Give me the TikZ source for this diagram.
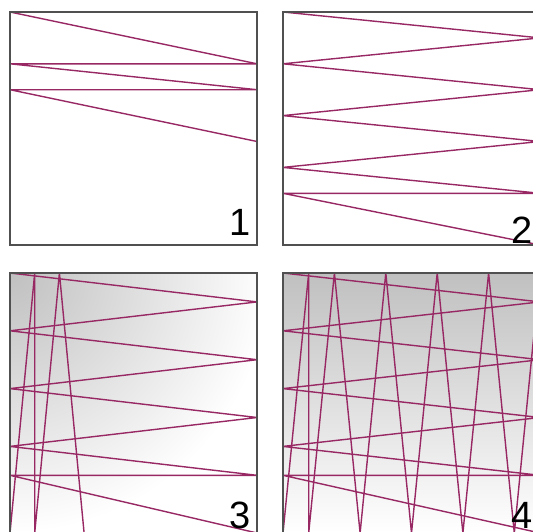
\documentclass[tikz,border=0pt]{standalone}
\usepackage{fontspec}
\setmainfont{Liberation Sans}
\definecolor{threadpurple}{RGB}{152,40,100}
\definecolor{framegray}{RGB}{80,80,80}
\definecolor{shadegray}{RGB}{192,192,192}

\begin{document}
\begin{tikzpicture}[
		x=1pt, y=-1pt,
		panel/.style={draw=framegray, line width=1.5pt},
		thread/.style={draw=threadpurple, line width=1.4pt, line join=bevel},
		numlabel/.style={anchor=base, inner sep=0pt, font=\fontsize{38}{40}\selectfont}
		]
		
		\useasboundingbox (0,0) rectangle (533,531);
		\clip (0,0) rectangle (533,531);
		
		% Shading
		\begin{scope}
			\clip (10,273) rectangle (257,533);
			\fill[white] (10,273) rectangle (257,533);
			\shade[inner color=shadegray, outer color=white] (10,273) circle[radius=260];
		\end{scope}
		\shade[top color=shadegray, bottom color=white] (283,273) rectangle (540,533);
		
		% Threads
		\begin{scope}
			\clip (10,12) rectangle (257,245);
			\draw[thread] (10,12) -- (257,63.8) -- (10,63.8) -- (257,89.7) -- (10,89.7) -- (257,141.5);
		\end{scope}
		
		\begin{scope}
			\clip (283,12) rectangle (540,245);
			\draw[thread] (283,12) -- (540,37.9) -- (283,63.8) -- (540,89.7) -- (283,115.6)
				-- (540,141.5) -- (283,167.4) -- (540,193.3) -- (283,193.3) -- (540,245);
		\end{scope}
		
		\begin{scope}
			\clip (10,273) rectangle (257,533);
			\draw[thread] (10,273) -- (257,301.9) -- (10,330.8) -- (257,359.7) -- (10,388.6)
				-- (257,417.5) -- (10,446.4) -- (257,475.3) -- (10,475.3) -- (257,533);
			\draw[thread] (84.1,533) -- (59.4,273) -- (34.7,533) -- (34.7,273) -- (10,533);
		\end{scope}
		
		\begin{scope}
			\clip (283,273) rectangle (540,533);
			\draw[thread] (283,273) -- (540,301.9) -- (283,330.8) -- (540,359.7) -- (283,388.6)
				-- (540,417.5) -- (283,446.4) -- (540,475.3) -- (283,475.3) -- (540,533);
			\draw[thread] (540,273) -- (514.3,533) -- (488.6,273) -- (462.9,533) -- (437.2,273)
				-- (411.5,533) -- (385.8,273) -- (360.1,533) -- (334.4,273) -- (308.7,533)
				-- (308.7,273) -- (283,533);
		\end{scope}
		
		% Frames
		\draw[panel] (10,12) rectangle (257,245);
		\draw[panel] (283,12) rectangle (540,245);
		\draw[panel] (10,273) rectangle (257,533);
		\draw[panel] (283,273) rectangle (540,533);
		
		% Labels
		\node[numlabel] (num1) at (240,235) {1};
		\node[numlabel] (num2) at (522,243) {2};
		\node[numlabel] (num3) at (240,528) {3};
		\node[numlabel] (num4) at (522,528) {4};
		
	\end{tikzpicture}
\end{document}
